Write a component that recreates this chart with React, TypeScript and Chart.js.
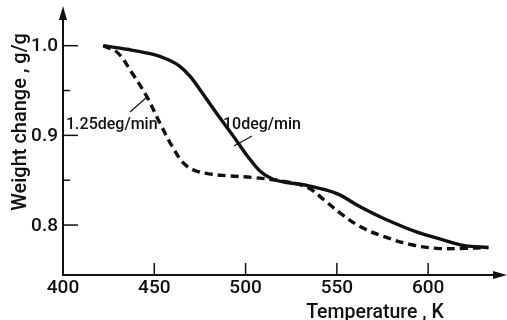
import React, { useEffect, useRef } from "react";
import { Chart, registerables } from "chart.js";

Chart.register(...registerables);

const solidTemps = [422, 435, 450, 458, 464, 470, 476, 484, 493, 501, 508, 515, 521, 534, 550, 563, 576, 594, 609, 620, 633];
const solidWeights = [1.0, 0.996, 0.99, 0.984, 0.977, 0.965, 0.948, 0.925, 0.9, 0.877, 0.86, 0.851, 0.848, 0.844, 0.835, 0.82, 0.807, 0.792, 0.783, 0.777, 0.775];

const dashedTemps = [422, 430, 438, 446, 453, 460, 466, 472, 480, 490, 504, 520, 534, 543, 552, 563, 576, 591, 605, 620, 633];
const dashedWeights = [1.0, 0.992, 0.969, 0.943, 0.914, 0.887, 0.869, 0.861, 0.857, 0.855, 0.853, 0.849, 0.842, 0.828, 0.813, 0.798, 0.787, 0.778, 0.774, 0.774, 0.775];

const xTicks = [400, 450, 500, 550, 600];
const yMajorTicks = [1.0, 0.9, 0.8];
const yMinorTicks = [0.95, 0.85];
const yTickLabels = ["1.0", "0.9", "0.8"];

const xTitle = "Temperature , K";
const yTitle = "Weight change , g/g";
const solidLabel = "10deg/min";
const dashedLabel = "1.25deg/min";

const INK = "#111";
const FONT = "Roboto, 'DejaVu Sans', sans-serif";

const axesPlugin = {
  id: "axesPlugin",
  afterDraw(chart: any) {
    const ctx = chart.ctx;
    const xs = chart.scales.x;
    const ys = chart.scales.y;
    const left = xs.getPixelForValue(400);
    const bottom = ys.getPixelForValue(ys.min);
    const right = chart.chartArea.right;
    const top = chart.chartArea.top;
    ctx.save();
    ctx.strokeStyle = INK;
    ctx.fillStyle = INK;
    ctx.lineWidth = 2;
    ctx.beginPath();
    ctx.moveTo(left, top + 6);
    ctx.lineTo(left, bottom);
    ctx.lineTo(right - 6, bottom);
    ctx.stroke();
    ctx.beginPath();
    ctx.moveTo(left, top - 4);
    ctx.lineTo(left - 4, top + 10);
    ctx.lineTo(left + 4, top + 10);
    ctx.closePath();
    ctx.fill();
    ctx.beginPath();
    ctx.moveTo(right + 4, bottom);
    ctx.lineTo(right - 10, bottom - 4);
    ctx.lineTo(right - 10, bottom + 4);
    ctx.closePath();
    ctx.fill();
    ctx.lineWidth = 1.5;
    xTicks.forEach((v) => {
      const px = xs.getPixelForValue(v);
      if (v !== 400) {
        ctx.beginPath();
        ctx.moveTo(px, bottom);
        ctx.lineTo(px, bottom - 12);
        ctx.stroke();
      }
    });
    yMajorTicks.forEach((v) => {
      const py = ys.getPixelForValue(v);
      ctx.beginPath();
      ctx.moveTo(left, py);
      ctx.lineTo(left + 15, py);
      ctx.stroke();
    });
    yMinorTicks.forEach((v) => {
      const py = ys.getPixelForValue(v);
      ctx.beginPath();
      ctx.moveTo(left, py);
      ctx.lineTo(left + 7, py);
      ctx.stroke();
    });
    ctx.font = `500 19px ${FONT}`;
    ctx.textAlign = "center";
    ctx.textBaseline = "alphabetic";
    xTicks.forEach((v) => {
      ctx.fillText(String(v), xs.getPixelForValue(v), 293);
    });
    ctx.textAlign = "right";
    ctx.textBaseline = "middle";
    yMajorTicks.forEach((v, i) => {
      ctx.fillText(yTickLabels[i], 58, ys.getPixelForValue(v) + 1);
    });
    ctx.textAlign = "center";
    ctx.textBaseline = "alphabetic";
    ctx.font = `500 19.5px ${FONT}`;
    ctx.fillText(xTitle, 375, 318);
    ctx.save();
    ctx.translate(26, 122);
    ctx.rotate(-Math.PI / 2);
    ctx.font = `500 20px ${FONT}`;
    ctx.fillText(yTitle, 0, 0);
    ctx.restore();
    ctx.font = `500 16px ${FONT}`;
    ctx.textAlign = "left";
    ctx.fillText(dashedLabel, 66, 129);
    ctx.fillText(solidLabel, 223, 129);
    ctx.lineWidth = 1.2;
    ctx.beginPath();
    ctx.moveTo(130, 112);
    ctx.lineTo(147, 97);
    ctx.stroke();
    ctx.beginPath();
    ctx.moveTo(234, 146);
    ctx.lineTo(252, 136);
    ctx.stroke();
    ctx.restore();
  },
};

export default function App() {
  const ref = useRef<HTMLCanvasElement | null>(null);
  useEffect(() => {
    if (!ref.current) return;
    const chart = new Chart(ref.current, {
      type: "line",
      data: {
        datasets: [
          {
            data: solidTemps.map((t, i) => ({ x: t, y: solidWeights[i] })),
            borderColor: INK,
            borderWidth: 3.4,
            pointRadius: 0,
            tension: 0.35,
            fill: false,
          },
          {
            data: dashedTemps.map((t, i) => ({ x: t, y: dashedWeights[i] })),
            borderColor: INK,
            borderWidth: 3.4,
            borderDash: [8, 5],
            pointRadius: 0,
            tension: 0.35,
            fill: false,
          },
        ],
      },
      options: {
        animation: false,
        responsive: false,
        devicePixelRatio: 1,
        layout: { padding: { left: 63, right: 4, top: 10, bottom: 45 } },
        plugins: { legend: { display: false }, tooltip: { enabled: false } },
        scales: {
          x: { type: "linear", min: 400, max: 641, display: false },
          y: { type: "linear", min: 0.7443, max: 1.0398, display: false },
        },
      },
      plugins: [axesPlugin],
    } as any);
    return () => chart.destroy();
  }, []);
  return (
    <div style={{ position: "fixed", left: 0, top: 0, width: 507, height: 320, background: "#fff" }}>
      <canvas ref={ref} width={507} height={320} />
    </div>
  );
}
